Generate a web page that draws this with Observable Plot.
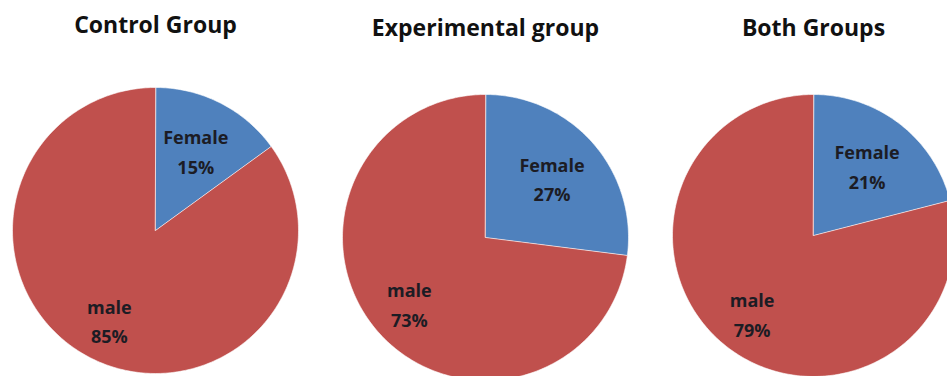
<!DOCTYPE html>
<html>
<head>
<meta charset="utf-8">
<script src="https://cdn.jsdelivr.net/npm/d3@7"></script>
<script src="https://cdn.jsdelivr.net/npm/@observablehq/plot@0.6"></script>
<style>
  html, body { margin: 0; padding: 0; background: #fff; }
  #wrap { position: relative; width: 947px; height: 376px; overflow: hidden; background: #fff; }
  .pie { position: absolute; top: 0; }
  .pie svg { max-width: none !important; display: block; }
</style>
</head>
<body>
<div id="wrap"></div>
<script>
// ---- data ----
const groups = ["Control Group", "Experimental group", "Both Groups"];
const categories = ["Female", "male"];
const femalePct = [15, 27, 21];
const malePct = [85, 73, 79];
const colors = ["#4F81BD", "#C0504D"];
const labelRadius = [0.62, 0.71]; // label distance (fraction of radius) per category

// ---- layout (pixels) ----
const layout = [
  {cx: 155, cy: 230, r: 143, titleY: 25},
  {cx: 485, cy: 237, r: 143, titleY: 28},
  {cx: 813, cy: 235, r: 141, titleY: 28}
];

const wrap = document.getElementById("wrap");

groups.forEach((g, i) => {
  const values = [femalePct[i], malePct[i]];
  const total = d3.sum(values);
  // build slices: angle measured clockwise from 12 o'clock
  const slicePts = [];
  const labels = [];
  let acc = 0;
  values.forEach((v, k) => {
    const a0 = acc / total * 2 * Math.PI;
    acc += v;
    const a1 = acc / total * 2 * Math.PI;
    slicePts.push({cat: categories[k], x: 0, y: 0});
    const n = Math.max(2, Math.ceil((a1 - a0) / (Math.PI / 180)));
    for (let j = 0; j <= n; j++) {
      const a = a0 + (a1 - a0) * j / n;
      slicePts.push({cat: categories[k], x: Math.sin(a), y: Math.cos(a)});
    }
    const am = (a0 + a1) / 2;
    labels.push({cat: categories[k], x: labelRadius[k] * Math.sin(am), y: labelRadius[k] * Math.cos(am), text: `${categories[k]}\n${v}%`});
  });

  const L = layout[i];
  const pad = 10;
  const width = 2 * L.r + 2 * pad;
  const height = L.cy + L.r + 2;
  const marginTop = L.cy - L.r;

  const chart = Plot.plot({
    width, height,
    marginLeft: pad, marginRight: pad,
    marginTop, marginBottom: 2,
    x: {domain: [-1, 1], axis: null},
    y: {domain: [-1, 1], axis: null},
    color: {domain: categories, range: colors},
    style: {fontFamily: "'Open Sans', sans-serif", background: "transparent", overflow: "visible"},
    marks: [
      Plot.line(slicePts, {x: "x", y: "y", z: "cat", fill: "cat", stroke: "#ffffff", strokeWidth: 0.6, curve: "linear-closed"}),
      Plot.text(labels, {x: "x", y: "y", text: "text", fill: "#1c1c24", fontSize: 18, fontWeight: "bold", lineHeight: 1.65, dy: -2}),
      Plot.text([g], {frameAnchor: "top", dy: -(marginTop - L.titleY), text: d => d, fontSize: 23, fontWeight: "bold", fill: "#111", lineAnchor: "middle"})
    ]
  });
  const div = document.createElement("div");
  div.className = "pie";
  div.style.left = (L.cx - L.r - pad) + "px";
  div.style.width = width + "px";
  div.appendChild(chart);
  wrap.appendChild(div);
});
</script>
</body>
</html>
